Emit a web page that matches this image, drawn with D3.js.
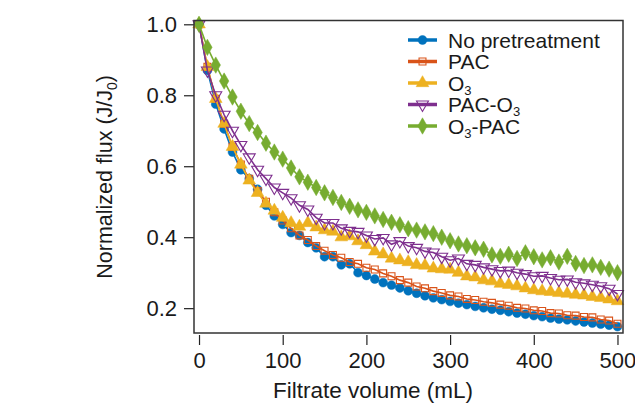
<!DOCTYPE html>
<html>
<head>
<meta charset="utf-8">
<script src="https://cdn.jsdelivr.net/npm/d3@7"></script>
<style>
	body { margin: 0; background: #fff; }
	#chart { width: 635px; height: 403px; }
	text { font-family: "Liberation Sans", Arial, sans-serif; fill: #1a1a1a; }
</style>
</head>
<body>
<div id="chart"></div>
<script>
// Filtrate volume (mL), one sample every 10 mL
const volumes = [0, 10, 20, 30, 40, 50, 60, 70, 80, 90, 100, 110, 120, 130, 140, 150, 160, 170, 180, 190,
	200, 210, 220, 230, 240, 250, 260, 270, 280, 290, 300, 310, 320, 330, 340, 350, 360, 370, 380, 390,
	400, 410, 420, 430, 440, 450, 460, 470, 480, 490, 500];

const noPretreatment = [1.00, 0.87, 0.775, 0.705, 0.64, 0.59, 0.565, 0.535, 0.49, 0.46, 0.436, 0.413, 0.405, 0.385, 0.37, 0.345, 0.345, 0.322, 0.325, 0.30,
	0.292, 0.282, 0.272, 0.265, 0.257, 0.249, 0.242, 0.235, 0.229, 0.224, 0.219, 0.214, 0.21, 0.205, 0.201, 0.197, 0.194, 0.19, 0.186, 0.183,
	0.179, 0.176, 0.172, 0.169, 0.167, 0.164, 0.161, 0.158, 0.155, 0.152, 0.148];

const pac = [1.00, 0.88, 0.79, 0.72, 0.655, 0.605, 0.565, 0.53, 0.50, 0.47, 0.447, 0.425, 0.405, 0.392, 0.375, 0.362, 0.35, 0.342, 0.33, 0.325,
	0.314, 0.309, 0.298, 0.29, 0.279, 0.272, 0.261, 0.256, 0.248, 0.243, 0.236, 0.233, 0.226, 0.223, 0.218, 0.215, 0.21, 0.207, 0.201, 0.199,
	0.194, 0.192, 0.186, 0.185, 0.18, 0.179, 0.175, 0.174, 0.168, 0.165, 0.156];

const o3 = [1.00, 0.88, 0.79, 0.72, 0.655, 0.605, 0.56, 0.525, 0.495, 0.475, 0.455, 0.44, 0.43, 0.44, 0.428, 0.42, 0.416, 0.40, 0.403, 0.389,
	0.378, 0.36, 0.352, 0.34, 0.335, 0.33, 0.322, 0.32, 0.312, 0.31, 0.309, 0.30, 0.29, 0.287, 0.279, 0.276, 0.269, 0.266, 0.262, 0.256,
	0.251, 0.248, 0.246, 0.243, 0.241, 0.238, 0.236, 0.232, 0.229, 0.225, 0.22];

const pacO3 = [1.00, 0.87, 0.80, 0.745, 0.70, 0.66, 0.625, 0.59, 0.565, 0.54, 0.525, 0.51, 0.49, 0.478, 0.455, 0.44, 0.44, 0.425, 0.418, 0.415,
	0.405, 0.395, 0.398, 0.38, 0.389, 0.375, 0.37, 0.36, 0.357, 0.345, 0.335, 0.34, 0.325, 0.322, 0.315, 0.31, 0.305, 0.306, 0.30, 0.296,
	0.29, 0.291, 0.285, 0.28, 0.281, 0.273, 0.27, 0.266, 0.262, 0.255, 0.24];

const o3Pac = [1.00, 0.935, 0.885, 0.84, 0.795, 0.755, 0.72, 0.695, 0.665, 0.64, 0.62, 0.595, 0.57, 0.555, 0.54, 0.525, 0.512, 0.498, 0.487, 0.477,
	0.47, 0.46, 0.45, 0.442, 0.435, 0.424, 0.42, 0.415, 0.41, 0.40, 0.39, 0.381, 0.376, 0.37, 0.366, 0.35, 0.346, 0.352, 0.34, 0.356,
	0.345, 0.336, 0.342, 0.33, 0.346, 0.326, 0.32, 0.322, 0.315, 0.31, 0.30];

const seriesNames = ["No pretreatment", "PAC", "O3", "PAC-O3", "O3-PAC"];
const seriesValues = [noPretreatment, pac, o3, pacO3, o3Pac];
const seriesColors = ["#0072BD", "#D95319", "#EDB120", "#7E2F8E", "#77AC30"];
const xTicks = [0, 100, 200, 300, 400, 500];
const yTicks = [0.2, 0.4, 0.6, 0.8, 1.0];

function fluxChart(svg_name) {

	// General Variables
	const margin = { top: 20.5, right: 12, left: 194, bottom: 70 };
	let chart_width = 635;
	let chart_height = 403;
	let chart = d3.select(svg_name).append("svg")
		.attr("width", chart_width)
		.attr("height", chart_height)
	const innerWidth = chart_width - margin.left - margin.right;
	const innerHeight = chart_height - margin.top - margin.bottom;

	// x position scale
	let x = d3.scaleLinear()
		.domain([-6, 506.6])
		.range([0, innerWidth]);

	// y position scale
	let y = d3.scaleLinear()
		.domain([0.13, 1.0107])
		.range([innerHeight, 0]);

	const g = chart.append('g')
		.attr("transform", "translate(" + margin.left + "," + margin.top + ")")

	// Y Axis (ticks outside the box)
	let yAxis = g.append('g')
		.call(d3.axisLeft(y).tickValues(yTicks).tickFormat(d3.format(".1f")).tickSize(10).tickPadding(7))
	yAxis.select(".domain").remove()
	yAxis.selectAll("line").attr("stroke", "#222").attr("stroke-width", 1.2)
	yAxis.selectAll("text").style("font-size", "22px").attr("fill", "#1a1a1a")

	// X Axis (sits a little under the box)
	let xAxis = g.append("g")
		.attr("transform", "translate(" + 0 + "," + (innerHeight + 2) + ")")
		.call(d3.axisBottom(x).tickValues(xTicks).tickFormat(d3.format("d")).tickSize(10).tickPadding(7))
	xAxis.select(".domain").remove()
	xAxis.selectAll("line").attr("stroke", "#222").attr("stroke-width", 1.2)
	xAxis.selectAll("text").style("font-size", "22px").attr("fill", "#1a1a1a")

	// Axis titles
	g.append('text')
		.attr('x', x(208))
		.attr('y', innerHeight + 65)
		.attr('text-anchor', 'middle')
		.style("font-size", "22.5px")
		.text("Filtrate volume (mL)");

	let yTitle = g.append('text')
		.attr('transform', "translate(" + (-82) + "," + (y(0.57)) + ") rotate(-90)")
		.attr('text-anchor', 'middle')
		.style("font-size", "21.5px")
	yTitle.append("tspan").text("Normalized flux (J/J")
	yTitle.append("tspan").attr("dy", 5).style("font-size", "14px").text("0")
	yTitle.append("tspan").attr("dy", -5).text(")")

	// marker shapes
	const symbols = [d3.symbolCircle, d3.symbolSquare, d3.symbolTriangle, d3.symbolTriangle, d3.symbolDiamond];
	const sizes = [62, 48, 70, 62, 78];
	const filled = [true, false, true, false, true];
	const rotations = [0, 0, 0, 180, 0];

	function drawMarker(sel, i) {
		sel.attr("d", d3.symbol().type(symbols[i]).size(sizes[i]))
			.attr("fill", filled[i] ? seriesColors[i] : "none")
			.attr("stroke", seriesColors[i])
			.attr("stroke-width", filled[i] ? 0.5 : 1.1)
	}

	// lines and points
	let line = d3.line()
		.x(function (d, i) { return x(volumes[i]); })
		.y(function (d) { return y(d); });

	let plotArea = g.append("g")
	seriesValues.forEach(function (vals, k) {
		let s = plotArea.append("g")
		s.append("path")
			.attr("d", line(vals))
			.attr("fill", "none")
			.attr("stroke", seriesColors[k])
			.attr("stroke-width", 1.6)
		s.selectAll("path.pt")
			.data(vals).enter()
			.append("path")
			.attr("class", "pt")
			.attr("transform", function (d, i) {
				return "translate(" + x(volumes[i]) + "," + y(d) + ") rotate(" + rotations[k] + ")";
			})
			.call(drawMarker, k)
	})

	// Frame
	g.append("rect")
		.attr("x", 0)
		.attr("y", 0)
		.attr("width", innerWidth)
		.attr("height", innerHeight)
		.attr("fill", "none")
		.attr("stroke", "#333")
		.attr("stroke-width", 1.5)

	// Legend
	let legend = g.append("g")
		.attr("transform", "translate(" + (408 - margin.left) + "," + (40 - margin.top) + ")")
	seriesNames.forEach(function (name, k) {
		let row = legend.append("g").attr("transform", "translate(0," + (k * 21.5) + ")")
		row.append("line")
			.attr("x1", 0).attr("x2", 29)
			.attr("stroke", seriesColors[k])
			.attr("stroke-width", 3.5)
		row.append("path")
			.attr("transform", "translate(14.5,0) rotate(" + rotations[k] + ")")
			.call(drawMarker, k)
		let label = row.append("text")
			.attr("x", 40)
			.attr("y", 7.5)
			.style("font-size", "21px")
		// subscript 3 in O3
		let parts = name.split("3")
		parts.forEach(function (p, j) {
			label.append("tspan").attr("dy", j > 0 ? -4 : 0).text(p)
			if (j < parts.length - 1) {
				label.append("tspan").attr("dy", 4).style("font-size", "13px").text("3")
			}
		})
	})

	return {
		chart: chart,
		x_scale: x,
		y_scale: y
	}
}

fluxChart("#chart");
</script>
</body>
</html>
